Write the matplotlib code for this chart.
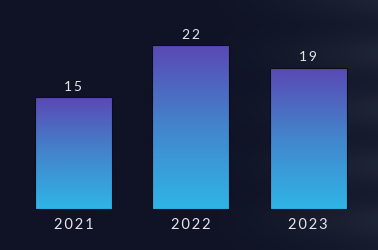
import numpy as np
import matplotlib
matplotlib.use("Agg")
import matplotlib.pyplot as plt
from matplotlib.colors import LinearSegmentedColormap

# chart data
years = ["2021", "2022", "2023"]
values = [15, 22, 19]

BG = "#0f1325"
TEXT = "#e6e6ea"
FONT = ["Lato", "DejaVu Sans"]
THIN = "\u2009"

fig = plt.figure(figsize=(3.78, 2.51), dpi=100, facecolor=BG)

# faint lighter haze on the right side of the background
bg_ax = fig.add_axes([0, 0, 1, 1])
bg_ax.axis("off")
xx, yy = np.meshgrid(np.linspace(0, 1, 200), np.linspace(0, 1, 150))
haze = np.clip((xx - 0.5) / 0.5, 0, 1) ** 1.5 * (0.5 + 0.5 * np.sin(yy * 14) ** 2)
bg_cmap = LinearSegmentedColormap.from_list("bg", [BG, "#1e2536"])
bg_ax.imshow(haze, cmap=bg_cmap, extent=[0, 1, 0, 1], aspect="auto", origin="lower", vmin=0, vmax=1)

ax = fig.add_axes([0, 41 / 251, 1, 210 / 251])
ax.set_facecolor("none")
x = np.arange(len(years))
bars = ax.bar(x, values, width=0.656, color="none", edgecolor="#0a0d18", linewidth=0.8, zorder=3)

grad_cmap = LinearSegmentedColormap.from_list("bar", ["#2fb5e6", "#4385cc", "#5a48b4"])
grad = np.linspace(0, 1, 256).reshape(-1, 1)
for b in bars:
    im = ax.imshow(grad, cmap=grad_cmap, origin="lower", aspect="auto",
                   extent=[b.get_x(), b.get_x() + b.get_width(), 0, b.get_height()], zorder=2)
    im.set_clip_path(b)
    ax.annotate(THIN.join(str(int(b.get_height()))), (b.get_x() + b.get_width() / 2, b.get_height()),
                xytext=(0, 4), textcoords="offset points", ha="center", va="bottom",
                color=TEXT, fontsize=10, family=FONT)

ax.set_xlim(-0.626, 2.594)
ax.set_ylim(0, 28.2)
ax.set_xticks(x)
ax.set_xticklabels([THIN.join(y) for y in years], color=TEXT, fontsize=10.5, family=FONT)
ax.tick_params(axis="x", length=0, pad=6)
ax.set_yticks([])
for s in ax.spines.values():
    s.set_visible(False)

fig.savefig("out.png", dpi=100, facecolor=BG)
